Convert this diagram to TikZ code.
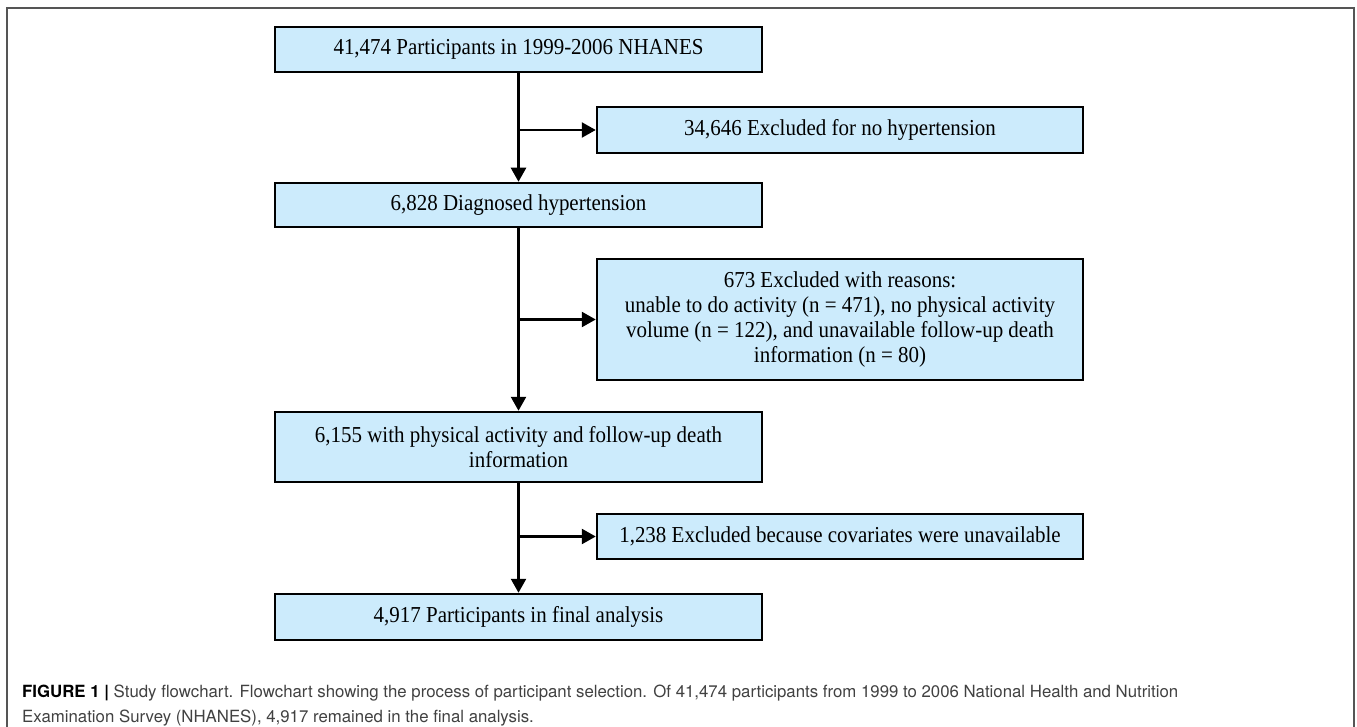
\documentclass[tikz,border=0pt]{standalone}
\usepackage{fontspec}
\setmainfont{Liberation Serif}[FakeStretch=0.92]
\newfontfamily\capfont{TeX Gyre Heros}
\usetikzlibrary{arrows.meta}
\definecolor{boxblue}{RGB}{204,235,252}
\definecolor{framegray}{RGB}{85,85,85}
\definecolor{capgray}{RGB}{65,65,65}

\begin{document}
\begin{tikzpicture}[x=1pt, y=-1pt,
    box/.style={draw, fill=boxblue, line width=2.5pt, inner sep=0pt, align=center,
      minimum height=45pt, font=\fontsize{22.8}{25}\selectfont},
    mainbox/.style={box, minimum width=487pt},
    sidebox/.style={box, minimum width=486pt},
    arrow/.style={line width=2.5pt, -{Triangle[length=14pt,width=15pt]}},
    caption/.style={anchor=base west, inner sep=0pt, text=capgray,
      font=\capfont\fontsize{16.8}{25}\selectfont}]
    \useasboundingbox (0,0) rectangle (1357,727);
    \draw[framegray, line width=1.5pt] (7,727) -- (7,8) -- (1354,8) -- (1354,727);

    \node[mainbox] (all) at (518.5,49.5) {41,474 Participants in 1999-2006 NHANES};
    \node[sidebox, minimum height=46pt] (nohyp) at (840,130) {34,646 Excluded for no hypertension};
    \node[mainbox, minimum height=44pt] (hyp) at (518.5,205) {6,828 Diagnosed hypertension};
    \node[sidebox, minimum height=121pt] (reasons) at (840,319.5) {673 Excluded with reasons:\\
        unable to do activity (n = 471), no physical activity\\
        volume (n = 122), and unavailable follow-up death\\
        information (n = 80)};
    \node[mainbox, minimum height=70pt] (activity) at (518.5,447) {6,155 with physical activity and follow-up death\\ information};
    \node[sidebox] (nocov) at (840,536.5) {1,238 Excluded because covariates were unavailable};
    \node[mainbox, minimum height=46pt] (final) at (518.5,617) {4,917 Participants in final analysis};

    \coordinate (j1) at (all.south |- nohyp.west);
    \coordinate (j2) at (hyp.south |- reasons.west);
    \coordinate (j3) at (activity.south |- nocov.west);

    \draw[arrow] (all) -- (hyp);
    \draw[arrow] (hyp) -- (activity);
    \draw[arrow] (activity) -- (final);
    \draw[arrow] (j1) -- (nohyp);
    \draw[arrow] (j2) -- (reasons);
    \draw[arrow] (j3) -- (nocov);

    \node[caption] (cap1) at (22,697) {\textcolor{black}{\textbf{FIGURE 1 |}} Study flowchart. Flowchart showing the process of participant selection. Of 41,474 participants from 1999 to 2006 National Health and Nutrition};
    \node[caption] (cap2) at (22,722) {Examination Survey (NHANES), 4,917 remained in the final analysis.};
\end{tikzpicture}
\end{document}
